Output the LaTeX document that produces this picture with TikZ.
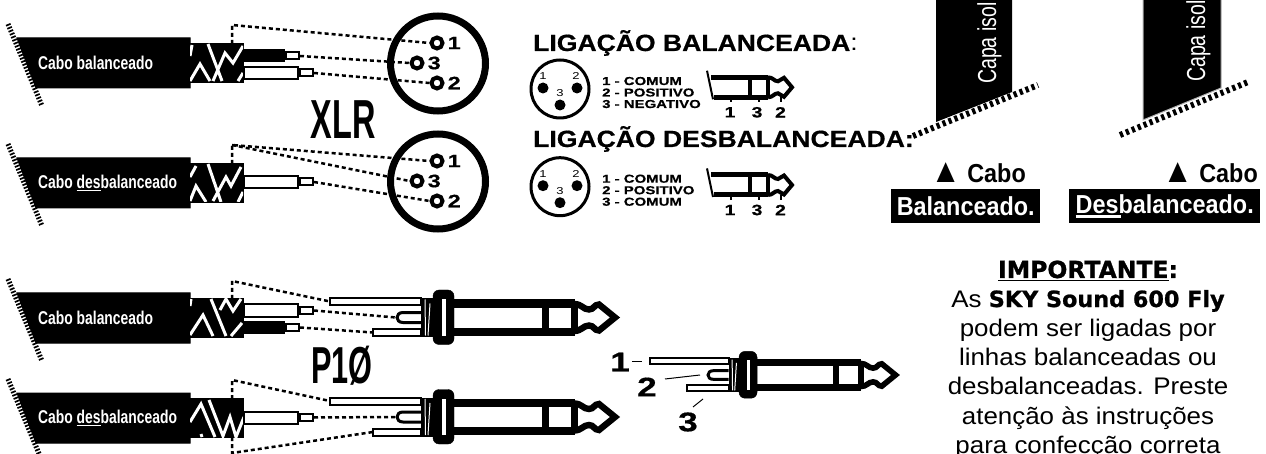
\documentclass[tikz,border=0pt]{standalone}
\usepackage{fontspec}
\setmainfont{Liberation Sans}
\newfontfamily\dinfont[FakeStretch=0.75]{Liberation Sans}
\newfontfamily\tallfont[FakeStretch=0.59]{Liberation Sans}
\newfontfamily\capafont[FakeStretch=0.75]{Liberation Sans}
\newfontfamily\cabofont[FakeStretch=0.9]{Liberation Sans}
\newfontfamily\headfont[FakeStretch=1.13,BoldFeatures={FakeBold=0.6}]{Liberation Sans}
\newfontfamily\widefont[FakeStretch=1.3,BoldFeatures={FakeBold=0.5}]{Liberation Sans}
\newfontfamily\bodyfont[FakeStretch=1.08]{Liberation Sans}
\newfontfamily\blackfont[BoldFeatures={FakeBold=1}]{DejaVu Sans}
\usetikzlibrary{positioning}

\tikzset{
  fio/.style={dashed,line width=2.5,dash pattern=on 4 off 3},
  rasgo/.style={line width=5,dash pattern=on 1.7 off 1.6},
  rasgoB/.style={line width=6,dash pattern=on 3.2 off 3.2},
  txtcabo/.style={anchor=west,inner sep=0,text=white,font=\dinfont\bfseries\fontsize{18.5}{20}\selectfont},
  bigtxt/.style={inner sep=0,font=\tallfont\bfseries\fontsize{55}{56}\selectfont},
  heading/.style={anchor=base west,inner sep=0,font=\headfont\bfseries\fontsize{23.5}{24}\selectfont},
  legenda/.style={anchor=base west,inner sep=0,font=\widefont\bfseries\fontsize{11.5}{12}\selectfont},
  mininum/.style={inner sep=0,font=\widefont\fontsize{10}{11}\selectfont},
  jacknum/.style={inner sep=0,font=\widefont\bfseries\fontsize{15}{16}\selectfont},
  pinonum/.style={anchor=west,inner sep=0,font=\widefont\bfseries\fontsize{18}{19}\selectfont},
  plugnum/.style={inner sep=0,font=\widefont\bfseries\fontsize{27}{28}\selectfont},
  pino/.style={circle,draw,line width=4,fill=white,inner sep=0,minimum size=11},
  wirebranco/.style={draw,line width=2,fill=white,anchor=west,inner sep=0,minimum width=54,minimum height=12},
  wirepreto/.style={draw,line width=2,fill=black,anchor=west,inner sep=0,minimum width=40,minimum height=11},
  wiretip/.style={draw,line width=2,fill=white,inner sep=0,minimum width=13,minimum height=7},
  capatxt/.style={rotate=90,anchor=base west,inner sep=0,text=white,font=\capafont\fontsize{26}{27}\selectfont},
  cabotxt/.style={anchor=base east,inner sep=0,font=\cabofont\bfseries\fontsize{26}{27}\selectfont},
  caixa/.style={anchor=north west,fill=black,text=white,inner sep=0,minimum height=34,font=\cabofont\bfseries\fontsize{26}{27}\selectfont},
  corpo/.style={inner sep=0,anchor=base,font=\bodyfont\fontsize{24}{25}\selectfont},
  % jacket, rough cut and shield of one cable
  pics/cabo/.style={code={
    \draw[fill=black,line width=1] (17,0) -- (190,0) -- (190,50) -- (36,50) -- cycle;
    \draw[rasgo] (8,-14) -- (42,68);
    \draw[line width=1.5,fill=black] (190,6) rectangle (243,44);
    \begin{scope}[shift={(190,6)}]
      \clip (0,0) rectangle (53,38);
      \draw[white,line width=3] #1;
    \end{scope}
    \coordinate (-malha) at (232,6);
    \coordinate (-base) at (232,44);
  }},
  % big P10 plug, origin on the axis at the left of the collar
  pics/plugue/.style={code={
    \draw[fill=white,line width=2] (-103,-19.5) rectangle (-12,-12.5);
    \draw[fill=white,line width=2] (-60,11.5) rectangle (-12,18.5);
    \draw[line width=3] (-12,-5) -- (-30,-5) .. controls (-38,-5) and (-38,5) .. (-30,5) -- (-12,5);
    \fill (-12,-19.5) rectangle (0,19.5);
    \draw[white,line width=1] (-8,-18) -- (-7.5,18) (-3,-14) -- (-5,18);
    \draw[line width=#1*1pt] (21,-14) -- (142,-14) (142,14) -- (21,14);
    \draw[line width=#1*.8pt] (141,-13.5) .. controls (149,-13.5) and (150,-8) .. (156,-8)
      .. controls (161,-8) and (161,-13) .. (166,-13) -- (182,0) -- (166,13)
      .. controls (161,13) and (161,8) .. (156,8) .. controls (150,8) and (149,13.5) .. (141,13.5);
    \draw[line width=#1*.9pt] (112.5,-14) -- (112.5,14) (141.5,-14) -- (141.5,14);
    \draw[fill=black,rounded corners=6] (0,-27.5) rectangle (21,27);
    \fill[white] (9,-18) rectangle (13,18);
    \coordinate (-alto) at (-103,-16);
    \coordinate (-meio) at (-37,0);
    \coordinate (-baixo) at (-60,15);
  }},
  % small drawing of the plug, origin on the axis
  pics/minijack/.style={code={
    \draw[line width=2] (-2,-16.6) -- (4,12);
    \draw[line width=5] (2,-10) -- (59,-10) (59,10) -- (5,10);
    \draw[line width=4] (59,-10) .. controls (64,-10) and (65,-6) .. (69,-6)
      .. controls (72,-6) and (72,-9.5) .. (75,-9.5) -- (83,0) -- (75,9.5)
      .. controls (72,9.5) and (72,6) .. (69,6) .. controls (65,6) and (64,10) .. (59,10);
    \draw[line width=4] (41,-10) -- (41,10) (59,-10) -- (59,10);
    \draw[line width=1.5] (22,10) -- (22,15) (50,10) -- (50,15) (72,10) -- (72,15);
    \node[jacknum] (-n1) at (21,25) {1};
    \node[jacknum] (-n3) at (48,25) {3};
    \node[jacknum] (-n2) at (71.5,25) {2};
  }},
  % small XLR socket face, origin at its centre
  pics/minixlr/.style={code={
    \draw[line width=3] (0,0) circle (29);
    \fill (-17,-1) circle (5.5) (17,-1) circle (5.5) (0,16) circle (5.5);
    \node[mininum] (-n1) at (-17,-13) {1};
    \node[mininum] (-n2) at (16,-13) {2};
    \node[mininum] (-n3) at (0,4) {3};
  }}
}

\begin{document}
\begin{tikzpicture}[x=1pt,y=-1pt]
\useasboundingbox (0,0) rectangle (1266,454);

%Cabo balanceado / XLR
\pic (C1) at (0,38) {cabo={(2,1) -- (0,12) (0,37) -- (10,20) -- (20,37) (18,0) -- (32,37) (23,37) -- (35,9) -- (43,19) -- (53,2) (48,37) -- (53,29)}};
\node[txtcabo] (T1) at (38,63) {Cabo balanceado};
\node[wirepreto] (W1) at (243,56) {};
\node[wiretip,right=0 of W1] (P1) {};
\node[wirebranco] (W2) at (243,73) {};
\node[wiretip,right=0 of W2] (P2) {};
\draw[line width=7] (438,63.5) circle (47.5);
\node[pino] (A1) at (437,43) {};
\node[pino] (A3) at (417,63) {};
\node[pino] (A2) at (437,83) {};
\node[pinonum,right=3 of A1] (LA1) {1};
\node[pinonum,right=3 of A3] (LA3) {3};
\node[pinonum,right=3 of A2] (LA2) {2};
\coordinate (S1) at (232,25);
% Fios
\draw[fio] (C1-malha) -- (S1) -- (A1.west);
\draw[fio] (P1.east) -- (A3.west);
\draw[fio] (P2.east) -- (A2.west);

\node[bigtxt] (XLR) at (343,120) {XLR};

%Cabo desbalanceado / XLR
\pic (C2) at (0,158) {cabo={(0,13) -- (6,2) (0,37) -- (6,22) -- (16,38) (18,0) -- (31,38) (23,37) -- (36,13) -- (41,22) -- (51,3) (48,38) -- (53,28)}};
\node[txtcabo] (T2) at (38,183) {Cabo \underline{des}balanceado};
\node[wirebranco] (W3) at (243,182) {};
\node[wiretip,right=0 of W3] (P3) {};
\draw[line width=7] (438,181.5) circle (47.5);
\node[pino] (B1) at (437,161) {};
\node[pino] (B3) at (417,181) {};
\node[pino] (B2) at (437,201) {};
\node[pinonum,right=3 of B1] (LB1) {1};
\node[pinonum,right=3 of B3] (LB3) {3};
\node[pinonum,right=3 of B2] (LB2) {2};
\coordinate (S2) at (232,145);
% Fios
\draw[fio] (C2-malha) -- (S2) -- (B1.west);
\draw[fio] (S2) -- (B3.west);
\draw[fio] (P3.east) -- (B2.west);

%Ligacao balanceada
\node[heading] (H1) at (533,51) {LIGAÇÃO BALANCEADA{\mdseries :}};
\pic (M1) at (560,89) {minixlr};
\node[legenda] (L11) at (602,85) {1 - COMUM};
\node[legenda] (L12) at (602,96.5) {2 - POSITIVO};
\node[legenda] (L13) at (602,108) {3 - NEGATIVO};
\pic (J1) at (709,87.3) {minijack};

%Ligacao desbalanceada
\node[heading] (H2) at (533,147) {LIGAÇÃO DESBALANCEADA:};
\pic (M2) at (560,186.7) {minixlr};
\node[legenda] (L21) at (602,182.7) {1 - COMUM};
\node[legenda] (L22) at (602,194.2) {2 - POSITIVO};
\node[legenda] (L23) at (602,205.7) {3 - COMUM};
\pic (J2) at (709,185) {minijack};

%Capa isolante
\begin{scope}
\clip (900,0) rectangle (1266,150);
\fill (936,-5) -- (1012,-5) -- (1012,92) -- (936,122) -- cycle;
\draw[line width=1,gray!60,fill=black] (1143,-5) -- (1221,-5) -- (1221,88) -- (1143,120) -- cycle;
\draw[rasgoB] (913,136) -- (1038,85);
\draw[rasgoB] (1120,135) -- (1248,82);
\node[capatxt] (K1) at (996,84) {Capa isol};
\node[capatxt] (K2) at (1205,82) {Capa isol};
\end{scope}

\node[cabotxt] (CB1) at (1026,183) {{\fontsize{34}{34}\selectfont ▲} Cabo};
\node[cabotxt] (CB2) at (1258,183) {{\fontsize{34}{34}\selectfont ▲} Cabo};
\node[caixa,minimum width=149] (BX1) at (891,189) {Balanceado.};
\node[caixa,minimum width=191] (BX2) at (1069,189) {\rlap{\rule[-4pt]{45pt}{3pt}}Desbalanceado.};

%P10 balanceado
\pic (C3) at (0,293) {cabo={(1,0) -- (0,7) (0,36) -- (13,16) -- (23,37) (21,0) -- (36,37) (30,11) -- (36,0) -- (43,12) -- (51,0) (41,37) -- (52,24)}};
\node[txtcabo] (T3) at (38,318) {Cabo balanceado};
\node[wirebranco] (W4) at (243,310.5) {};
\node[wiretip,right=0 of W4] (P4) {};
\node[wirepreto] (W5) at (243,327.5) {};
\node[wiretip,right=0 of W5] (P5) {};
\pic (G1) at (433,317.5) {plugue=8};
\coordinate (S3) at (232,281);
% Fios
\draw[fio] (C3-malha) -- (S3) -- (G1-alto);
\draw[fio] (P4.east) -- (G1-meio);
\draw[fio] (P5.east) -- (G1-baixo);

\node[bigtxt,font=\tallfont\bfseries\fontsize{52}{53}\selectfont] (P10) at (342,365.5) {P1Ø};

%P10 desbalanceado
\pic (C4) at (0,393) {cabo={(0,23) -- (11,5) -- (25,38) (19,1) -- (33,37) -- (40,18) -- (46,38) -- (54,18) (11,35) -- (12,38)}};
\node[txtcabo] (T4) at (38,418) {Cabo \underline{des}balanceado};
\node[wirebranco] (W6) at (243,417.5) {};
\node[wiretip,right=0 of W6] (P6) {};
\pic (G2) at (433,417) {plugue=8};
\coordinate (S4) at (232,380);
\coordinate (S5) at (232,453);
% Fios
\draw[fio] (C4-malha) -- (S4) -- (G2-alto);
\draw[fio] (P6.east) -- (G2-meio);
\draw[fio] (C4-base) -- (S5) -- (G2-baixo);

%P10 numerado
\pic[scale=.86] (G3) at (739,375) {plugue=7};
\node[plugnum] (N1) at (620,362) {1};
\node[plugnum] (N2) at (647,387) {2};
\node[plugnum] (N3) at (688,422) {3};
\coordinate (E1) at (642,361);
\coordinate (E2) at (700,375);
\coordinate (E3) at (703,399);
\coordinate (F2) at (665,379);
\coordinate (F3) at (693,407);
\draw[line width=1] (N1.east) ++(2,-1) -- (E1);
\draw[line width=1] (F2) -- (E2);
\draw[line width=1] (F3) -- (E3);

%Importante
\node[corpo,font=\blackfont\bfseries\fontsize{23.5}{24}\selectfont] (I0) at (1088,278) {\underline{IMPORTANTE}:};
\node[corpo] (I1) at (1088,307) {As {\blackfont\bfseries\fontsize{22.3}{23}\selectfont SKY Sound 600 Fly}};
\node[corpo] (I2) at (1088,336) {podem ser ligadas por};
\node[corpo] (I3) at (1088,365) {linhas balanceadas ou};
\node[corpo] (I4) at (1088,394.5) {desbalanceadas. Preste};
\node[corpo] (I5) at (1088,424) {atenção às instruções};
\node[corpo] (I6) at (1088,453.5) {para confecção correta};
\end{tikzpicture}
\end{document}
